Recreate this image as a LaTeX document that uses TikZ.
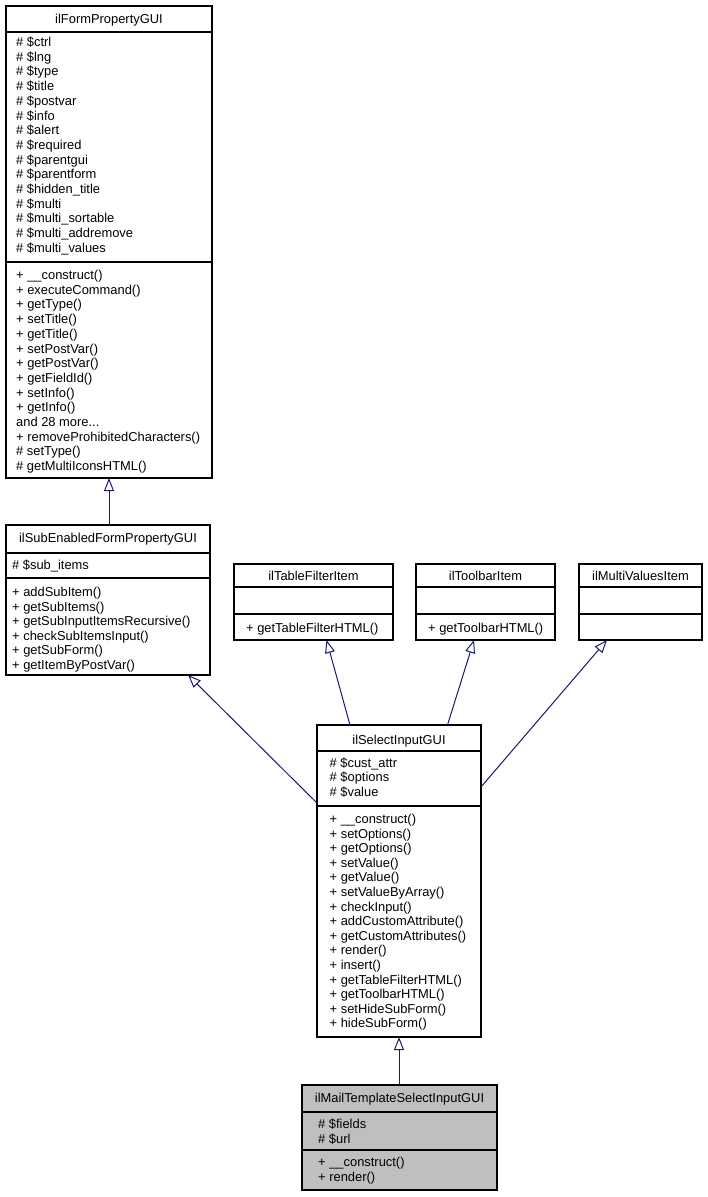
\documentclass[tikz,border=0pt]{standalone}
\usepackage{fontspec}
\setmainfont{Liberation Sans}
\usetikzlibrary{arrows.meta}
\definecolor{edgecol}{HTML}{191970}
\definecolor{grayfill}{HTML}{BFBFBF}
\newcommand\threedots{...}
\begin{document}
\begin{tikzpicture}[x=1pt,y=-1pt,
  font=\fontsize{12.9}{14.7}\selectfont,
  classbox/.style={draw=black, line width=1.2pt, inner sep=0pt, outer sep=0pt, fill=white},
  sepline/.style={draw=black, line width=1.2pt},
  txt/.style={anchor=base west, inner sep=0pt},
  ttl/.style={anchor=base, inner sep=0pt},
  inh/.style={draw=edgecol, line width=1pt, -{Triangle[open, length=13pt, width=10pt]}}]
\useasboundingbox (0,0) rectangle (707,1197);

% ---- class boxes ----
\node[classbox, minimum width=206pt, minimum height=472pt] (form) at (109,242) {};
\node[classbox, minimum width=204pt, minimum height=150pt] (sub) at (108,600) {};
\node[classbox, minimum width=159pt, minimum height=76pt] (tf) at (313.5,602) {};
\node[classbox, minimum width=139pt, minimum height=76pt] (tb) at (485.5,602) {};
\node[classbox, minimum width=123pt, minimum height=76pt] (mv) at (640.5,602) {};
\node[classbox, minimum width=164pt, minimum height=312pt] (sel) at (399,881) {};
\node[classbox, fill=grayfill, minimum width=195pt, minimum height=105pt] (mail) at (399.5,1137.5) {};

% ---- separators ----
\draw[sepline] (form.west |- 0,32) -- (form.east |- 0,32);
\draw[sepline] (form.west |- 0,262) -- (form.east |- 0,262);
\draw[sepline] (sub.west |- 0,553) -- (sub.east |- 0,553);
\draw[sepline] (sub.west |- 0,578) -- (sub.east |- 0,578);
\foreach \n in {tf,tb,mv}{
  \draw[sepline] (\n.west |- 0,587) -- (\n.east |- 0,587);
  \draw[sepline] (\n.west |- 0,614) -- (\n.east |- 0,614);
}
\draw[sepline] (sel.west |- 0,751) -- (sel.east |- 0,751);
\draw[sepline] (sel.west |- 0,806) -- (sel.east |- 0,806);
\draw[sepline] (mail.west |- 0,1112) -- (mail.east |- 0,1112);
\draw[sepline] (mail.west |- 0,1150) -- (mail.east |- 0,1150);

% ---- titles ----
\node[ttl] (formT) at (109,23) {ilFormPropertyGUI};
\node[ttl] (subT) at (108,542.5) {ilSubEnabledFormPropertyGUI};
\node[ttl] (tfT) at (313.5,580) {ilTableFilterItem};
\node[ttl] (tbT) at (485.5,580) {ilToolbarItem};
\node[ttl] (mvT) at (640.5,580) {ilMultiValuesItem};
\node[ttl] (selT) at (399,744.5) {ilSelectInputGUI};
\node[ttl] (mailT) at (399.5,1102.8) {ilMailTemplateSelectInputGUI};

% ---- members ----
\foreach \t [count=\i from 0] in {\# \$ctrl,\# \$lng,\# \$type,\# \$title,\# \$postvar,\# \$info,\# \$alert,\# \$required,\# \$parentgui,\# \$parentform,\# \$hidden\_title,\# \$multi,\# \$multi\_sortable,\# \$multi\_addremove,\# \$multi\_values}
  \node[txt] (fa\i) at (16,{46.5+\i*14.7}) {\t};
\foreach \t [count=\i from 0] in {+ \_\_construct(),+ executeCommand(),+ getType(),+ setTitle(),+ getTitle(),+ setPostVar(),+ getPostVar(),+ getFieldId(),+ setInfo(),+ getInfo(),{and 28 more\threedots},+ removeProhibitedCharacters(),\# setType(),\# getMultiIconsHTML()}
  \node[txt] (fm\i) at (16,{279.5+\i*14.7}) {\t};

\node[txt] (sa0) at (12,569.5) {\# \$sub\_items};
\foreach \t [count=\i from 0] in {+ addSubItem(),+ getSubItems(),+ getSubInputItemsRecursive(),+ checkSubItemsInput(),+ getSubForm(),+ getItemByPostVar()}
  \node[txt] (sm\i) at (12,{596.5+\i*14.6}) {\t};

\node[txt] (tfm) at (246,632.5) {+ getTableFilterHTML()};
\node[txt] (tbm) at (428,632.5) {+ getToolbarHTML()};

\foreach \t [count=\i from 0] in {\# \$cust\_attr,\# \$options,\# \$value}
  \node[txt] (sela\i) at (329.5,{767+\i*14.7}) {\t};
\foreach \t [count=\i from 0] in {+ \_\_construct(),+ setOptions(),+ getOptions(),+ setValue(),+ getValue(),+ setValueByArray(),+ checkInput(),+ addCustomAttribute(),+ getCustomAttributes(),+ render(),+ insert(),+ getTableFilterHTML(),+ getToolbarHTML(),+ setHideSubForm(),+ hideSubForm()}
  \node[txt] (selm\i) at (329.5,{823.5+\i*14.6}) {\t};

\node[txt] (ma0) at (318,1128) {\# \$fields};
\node[txt] (ma1) at (318,1143) {\# \$url};
\node[txt] (mm0) at (318,1166) {+ \_\_construct()};
\node[txt] (mm1) at (318,1181) {+ render()};

% ---- inheritance edges ----
\coordinate (selL) at (317,803);
\coordinate (subR) at (188,675);
\coordinate (selTL) at (350,725);
\coordinate (tfB) at (326.5,640);
\coordinate (selTR) at (447.5,725);
\coordinate (tbB) at (474,640);
\coordinate (selR) at (481,787);
\coordinate (mvB) at (607,640);

\draw[inh] (form.south |- sub.north) -- (form.south);
\draw[inh] (selL) -- (subR);
\draw[inh] (selTL) -- (tfB);
\draw[inh] (selTR) -- (tbB);
\draw[inh] (selR) -- (mvB);
\draw[inh] (mail.north -| sel.south) -- (sel.south);
\end{tikzpicture}
\end{document}
